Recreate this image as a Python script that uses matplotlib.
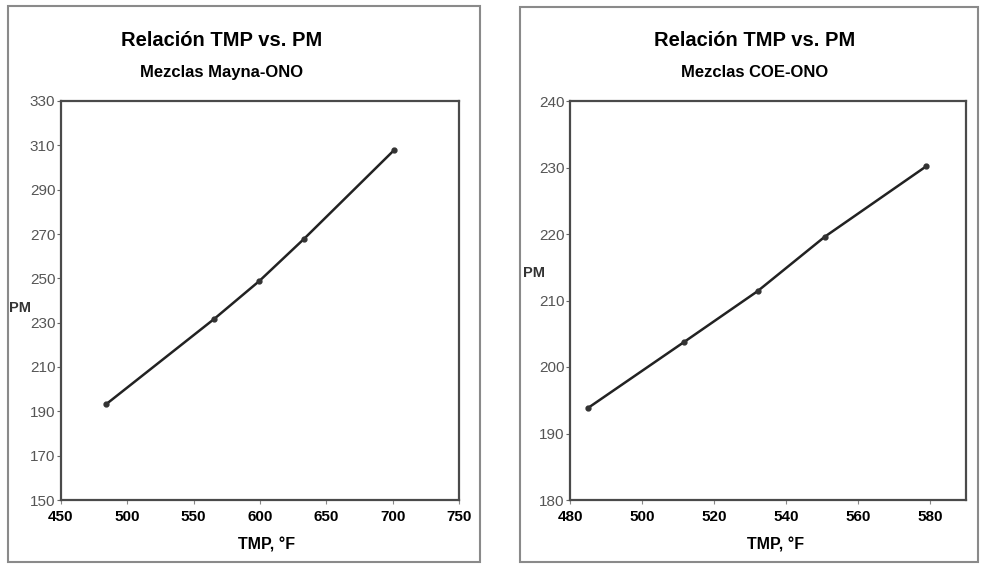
import matplotlib.pyplot as plt
from matplotlib.patches import Rectangle

plt.rcParams['font.family'] = ['Liberation Sans', 'DejaVu Sans']

# Mayna-ONO blends
tmp_mayna = [484.0, 565.5, 599.5, 633.0, 701.0]
pm_mayna = [193.2, 231.7, 248.8, 267.7, 307.8]

# COE-ONO blends
tmp_coe = [484.9, 511.8, 532.1, 550.8, 579.0]
pm_coe = [193.8, 203.8, 211.4, 219.6, 230.2]

W, H = 985, 564
fig = plt.figure(figsize=(W / 100, H / 100), dpi=100)
fig.patch.set_facecolor('white')


def px(x0, y0, x1, y1):
    # pixel box (top-left origin) -> figure fraction rect
    return [x0 / W, 1 - y1 / H, (x1 - x0) / W, (y1 - y0) / H]


def panel(frame, box, xs, ys, xlim, xticks, ylim, yticks, subtitle, cx, pm_pos):
    fx0, fy0, fx1, fy1 = frame
    fig.patches.append(Rectangle((fx0 / W, 1 - fy1 / H), (fx1 - fx0) / W, (fy1 - fy0) / H,
                                 transform=fig.transFigure, fill=False,
                                 edgecolor='#8a8a8a', linewidth=1.5))
    ax = fig.add_axes(px(*box))
    ax.plot(xs, ys, color='#222222', linewidth=1.8, marker='o', markersize=3.5,
            markerfacecolor='#333333', markeredgecolor='#333333')
    ax.set_xlim(*xlim)
    ax.set_ylim(*ylim)
    ax.set_xticks(xticks)
    ax.set_yticks(yticks)
    for s in ax.spines.values():
        s.set_color('#4a4a4a')
        s.set_linewidth(1.6)
    ax.tick_params(axis='y', direction='out', length=3, width=0.8, color='#666666',
                   labelsize=11, labelcolor='#555555', pad=1)
    ax.tick_params(axis='x', direction='out', length=3, width=0.8, color='#888888',
                   labelsize=11, labelcolor='black', pad=4)
    for lab in ax.get_xticklabels():
        lab.set_fontweight('bold')
    fig.text(cx / W, 1 - 40 / H, 'Relación TMP vs. PM', ha='center', va='center',
             fontsize=14.5, fontweight='bold')
    fig.text(cx / W, 1 - 73 / H, subtitle, ha='center', va='center',
             fontsize=12, fontweight='bold')
    fig.text(pm_pos[0] / W, 1 - pm_pos[1] / H, 'PM', ha='center', va='center',
             fontsize=10.5, fontweight='bold', color='#333333')
    fig.text(pm_pos[2] / W, 1 - 545 / H, 'TMP, °F', ha='center', va='center',
             fontsize=11.5, fontweight='bold')
    return ax


panel((8, 6, 480, 562), (61, 101, 459, 500), tmp_mayna, pm_mayna,
      (450, 750), range(450, 751, 50), (150, 330), range(150, 331, 20),
      'Mezclas Mayna-ONO', 222, (20, 308, 267))

panel((520, 7, 978, 562), (570, 101, 966, 500), tmp_coe, pm_coe,
      (480, 590), range(480, 581, 20), (180, 240), range(180, 241, 10),
      'Mezclas COE-ONO', 755, (534, 273, 776))

fig.savefig('out.png', dpi=100)
